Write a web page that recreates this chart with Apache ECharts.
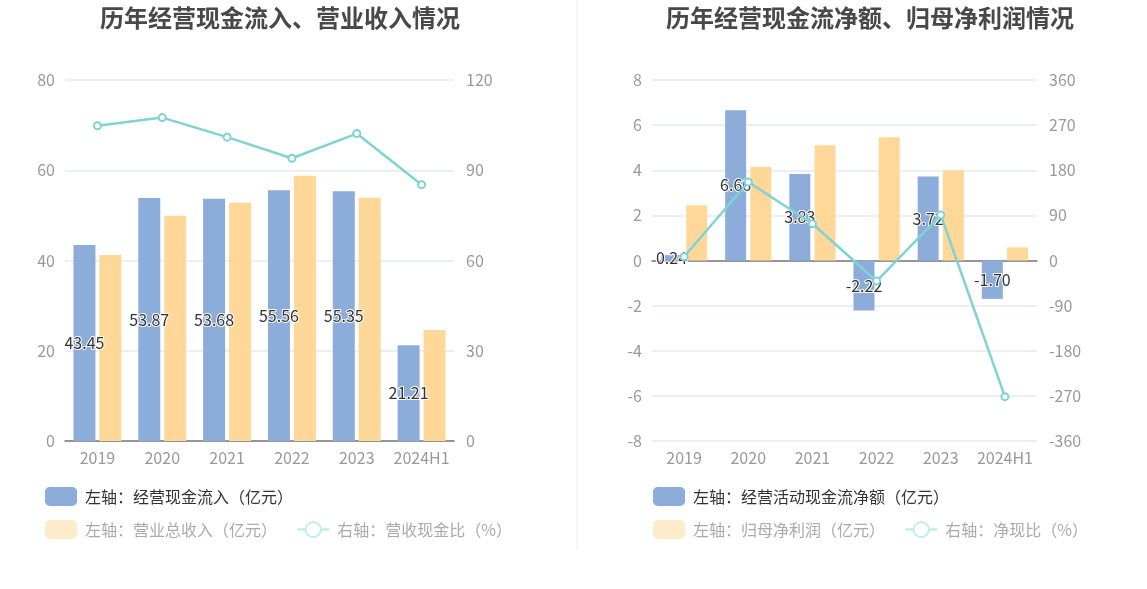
<!DOCTYPE html>
<html>
<head>
<meta charset="utf-8">
<script src="https://cdn.jsdelivr.net/npm/echarts@6/dist/echarts.min.js"></script>
<style>
html,body{margin:0;padding:0;background:#fff;}
#c{width:1147px;height:589px;}
</style>
</head>
<body>
<div id="c"></div>
<script>
const categories = ['2019','2020','2021','2022','2023','2024H1'];
// Left chart
const cashInflow = [43.45, 53.87, 53.68, 55.56, 55.35, 21.21];
const revenue = [41.2, 49.9, 52.8, 58.8, 53.9, 24.6];
const cashRevenueRatio = [104.8, 107.5, 101.0, 94.0, 102.2, 85.2];
// Right chart
const netCashFlow = [0.24, 6.66, 3.83, -2.22, 3.72, -1.70];
const netProfit = [2.45, 4.16, 5.11, 5.46, 4.0, 0.58];
const netCashRatio = [7.6, 156.6, 73.4, -40.9, 90.7, -271.6];
const leftTicks = {min:0, max:80, interval:20};
const leftTicksR = {min:0, max:120, interval:30};
const rightTicks = {min:-8, max:8, interval:2};
const rightTicksR = {min:-360, max:360, interval:90};

const FONT = '"Noto Sans CJK SC", "Noto Sans", sans-serif';
const BLUE = '#8cadda';
const ORANGE = '#ffd899';
const TEAL = '#7fd3d6';
const AXIS_LABEL = {color:'#999', fontSize:16, fontFamily:FONT, interval:0};
const SPLIT = {lineStyle:{color:'#e6e9f4', width:1.5}};

const names = {
  l1:'左轴：经营现金流入（亿元）', l2:'左轴：营业总收入（亿元）', l3:'右轴：营收现金比（%）',
  r1:'左轴：经营活动现金流净额（亿元）', r2:'左轴：归母净利润（亿元）', r3:'右轴：净现比（%）'
};

const barLabel = {
  show:true, position:'inside', color:'#333', fontSize:16, fontFamily:FONT,
  textBorderColor:'#fff', textBorderWidth:2,
  formatter: p => p.value.toFixed(2)
};

function yAxis(grid, t, showSplit, labelMargin){
  return {type:'value', gridIndex:grid, min:t.min, max:t.max, interval:t.interval,
    axisLabel:{margin:labelMargin, color:'#999', fontSize:16, fontFamily:FONT},
    axisLine:{show:false}, axisTick:{show:false},
    splitLine:Object.assign({show:showSplit}, SPLIT)};
}

function fadedLegend(n1, n2){
  return [
    {name:n1, icon:'roundRect', itemStyle:{color:'#fdebcb'}, textStyle:{color:'#aaa'}},
    {name:n2, itemStyle:{color:'#c3eced'}, lineStyle:{color:'#c3eced', width:2.5}, textStyle:{color:'#aaa'}}
  ];
}

const legendBase = {itemWidth:32, itemHeight:19, itemGap:19,
  textStyle:{fontSize:16, fontFamily:FONT, color:'#333', padding:[0,0,0,3]}};

const option = {
  animation:false,
  textStyle:{fontFamily:FONT},
  graphic:[{type:'line', shape:{x1:577, y1:0, x2:577, y2:550}, style:{stroke:'#eeeeee', lineWidth:1}}],
  title:[
    {text:'历年经营现金流入、营业收入情况', left:275, textAlign:'center', top:1,
     textStyle:{fontSize:24, fontWeight:'bold', color:'#484848', fontFamily:FONT}},
    {text:'历年经营现金流净额、归母净利润情况', left:865, textAlign:'center', top:1,
     textStyle:{fontSize:24, fontWeight:'bold', color:'#484848', fontFamily:FONT}}
  ],
  legend:[
    Object.assign({}, legendBase, {left:40, top:482, icon:'roundRect', data:[names.l1]}),
    Object.assign({}, legendBase, {left:40, top:515, data:fadedLegend(names.l2, names.l3)}),
    Object.assign({}, legendBase, {left:648, top:482, icon:'roundRect', data:[names.r1]}),
    Object.assign({}, legendBase, {left:648, top:515, data:fadedLegend(names.r2, names.r3)})
  ],
  grid:[
    {left:65, right:693, top:80, bottom:148},
    {left:652, right:110, top:80, bottom:148}
  ],
  xAxis:[
    {type:'category', gridIndex:0, data:categories,
     axisLine:{lineStyle:{color:'#7a7a7a', width:1.5}},
     axisTick:{alignWithLabel:true, lineStyle:{color:'#7a7a7a'}},
     axisLabel:Object.assign({margin:9}, AXIS_LABEL)},
    {type:'category', gridIndex:1, data:categories,
     axisLine:{onZero:true, lineStyle:{color:'#7a7a7a', width:1.5}},
     axisTick:{alignWithLabel:true, lineStyle:{color:'#7a7a7a'}},
     axisLabel:{show:false}},
    {type:'category', gridIndex:1, data:categories, position:'bottom',
     axisLine:{show:false, onZero:false}, axisTick:{show:false},
     axisLabel:Object.assign({margin:9}, AXIS_LABEL)}
  ],
  yAxis:[
    yAxis(0, leftTicks, true, 10),
    yAxis(0, leftTicksR, false, 12),
    yAxis(1, rightTicks, true, 10),
    yAxis(1, rightTicksR, false, 12)
  ],
  series:[
    {name:names.l1, type:'bar', xAxisIndex:0, yAxisIndex:0, data:cashInflow,
     barWidth:22, barGap:'18%', itemStyle:{color:BLUE}, label:barLabel},
    {name:names.l2, type:'bar', xAxisIndex:0, yAxisIndex:0, data:revenue,
     barWidth:22, barGap:'18%', itemStyle:{color:ORANGE}},
    {name:names.l3, type:'line', xAxisIndex:0, yAxisIndex:1, data:cashRevenueRatio,
     symbol:'emptyCircle', symbolSize:7, lineStyle:{color:TEAL, width:2.5},
     itemStyle:{color:TEAL, borderWidth:2}, z:5},
    {name:names.r1, type:'bar', xAxisIndex:1, yAxisIndex:2, data:netCashFlow,
     barWidth:21, barGap:'20%', itemStyle:{color:BLUE}, label:barLabel},
    {name:names.r2, type:'bar', xAxisIndex:1, yAxisIndex:2, data:netProfit,
     barWidth:21, barGap:'20%', itemStyle:{color:ORANGE}},
    {name:names.r3, type:'line', xAxisIndex:1, yAxisIndex:3, data:netCashRatio,
     symbol:'emptyCircle', symbolSize:7, lineStyle:{color:TEAL, width:2.5},
     itemStyle:{color:TEAL, borderWidth:2}, z:5}
  ]
};

const chart = echarts.init(document.getElementById('c'), null, {renderer:'canvas'});
chart.setOption(option);
</script>
</body>
</html>
